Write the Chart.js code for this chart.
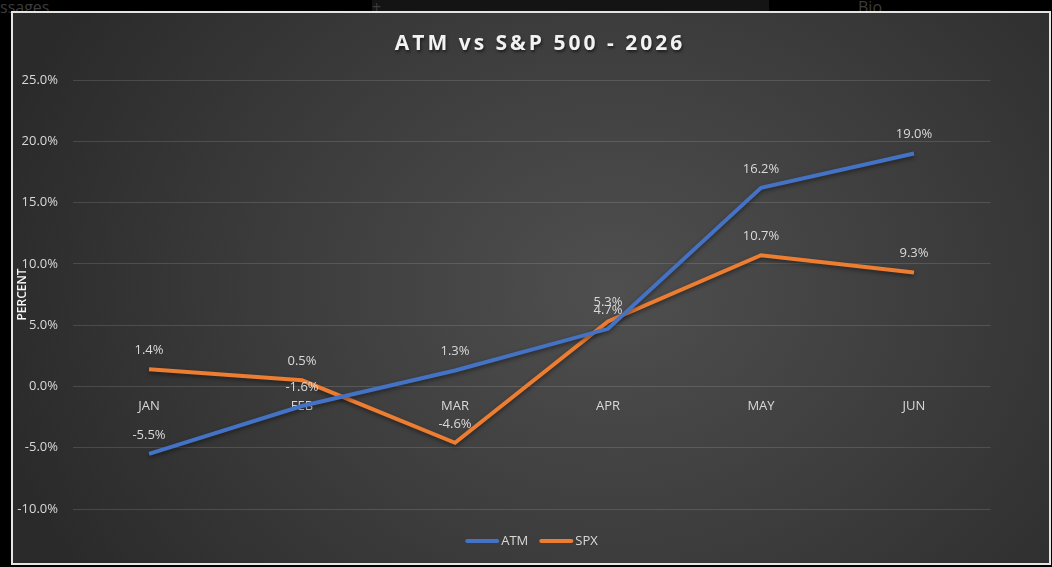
<!DOCTYPE html>
<html>
<head>
<meta charset="utf-8">
<script src="https://cdn.jsdelivr.net/npm/chart.js@4/dist/chart.umd.min.js"></script>
<style>
    html, body { margin: 0; padding: 0; background: #000; width: 1052px; height: 567px; overflow: hidden; font-family: "Open Sans", sans-serif; }
    .sheet { position: absolute; color: #3c3c3c; font-size: 16px; top: -4px; }
    .bar { position: absolute; left: 372px; top: 0; width: 397px; height: 11px; background: #141414; }
    #frame {
        position: absolute; left: 11px; top: 11px;
        width: 1036px; height: 550px;
        border: 2px solid #e4e4e4;
        overflow: hidden;
        background: radial-gradient(ellipse 62% 95% at 58% 50%, #4f4f4f 0%, #3d3d3d 50%, #2a2a2a 100%);
    }
    #title {
        position: absolute; left: 527px; top: 15px; transform: translateX(-50%);
        white-space: nowrap; color: #f2f2f2; font-weight: 700; font-size: 21px;
        letter-spacing: 3px; text-shadow: 1px 2px 3px rgba(0,0,0,0.55);
    }
    #wrap { position: absolute; left: 0; top: 0; width: 1036px; height: 550px; }
</style>
</head>
<body>
<div class="bar"></div>
<div class="sheet" style="left:0">ssages</div>
<div class="sheet" style="left:372px">+</div>
<div class="sheet" style="left:858px">Bio</div>
<div id="frame">
    <div id="wrap"><canvas id="myChart"></canvas></div>
    <div id="title">ATM vs S&amp;P 500 - 2026</div>
</div>
<script>
const months = ['JAN', 'FEB', 'MAR', 'APR', 'MAY', 'JUN'];
const atmValues = [-5.5, -1.6, 1.3, 4.7, 16.2, 19.0];
const spxValues = [1.4, 0.5, -4.6, 5.3, 10.7, 9.3];
const yTicks = [-10, -5, 0, 5, 10, 15, 20, 25];

const labelColor = '#d9d9d9';
const labelFont = '13px "Open Sans"';

// shadow under the lines, like the excel style
const lineShadow = {
    id: 'lineShadow',
    beforeDatasetsDraw(chart) {
        const ctx = chart.ctx;
        ctx.save();
        ctx.shadowColor = 'rgba(0,0,0,0.45)';
        ctx.shadowBlur = 4;
        ctx.shadowOffsetY = 2;
    },
    afterDatasetsDraw(chart) {
        chart.ctx.restore();
    }
};

// value labels above each point
const pointLabels = {
    id: 'pointLabels',
    afterDatasetsDraw(chart) {
        const ctx = chart.ctx;
        ctx.save();
        ctx.font = labelFont;
        ctx.fillStyle = labelColor;
        ctx.textAlign = 'center';
        ctx.textBaseline = 'middle';
        chart.data.datasets.forEach((ds, i) => {
            chart.getDatasetMeta(i).data.forEach((pt, j) => {
                ctx.fillText(ds.data[j].toFixed(1) + '%', pt.x, pt.y - 19);
            });
        });
        ctx.restore();
    }
};

// legend drawn by hand: short line + name, tight gap like excel
const bottomLegend = {
    id: 'bottomLegend',
    afterDraw(chart) {
        const ctx = chart.ctx;
        const lineLen = 34, gap = 2, between = 11;
        ctx.save();
        ctx.font = labelFont;
        const items = chart.data.datasets.map(ds => ({
            ds: ds, w: lineLen + gap + ctx.measureText(ds.label).width
        }));
        const total = items.reduce((a, it) => a + it.w, 0) + between * (items.length - 1);
        let x = (chart.chartArea.left + chart.chartArea.right) / 2 - total / 2;
        const y = chart.chartArea.bottom + 32;
        items.forEach(it => {
            ctx.strokeStyle = it.ds.borderColor;
            ctx.lineWidth = 4;
            ctx.lineCap = 'round';
            ctx.beginPath();
            ctx.moveTo(x + 2, y);
            ctx.lineTo(x + lineLen - 2, y);
            ctx.stroke();
            ctx.fillStyle = labelColor;
            ctx.textBaseline = 'middle';
            ctx.fillText(it.ds.label, x + lineLen + gap, y);
            x += it.w + between;
        });
        ctx.restore();
    }
};

const ctx = document.getElementById('myChart').getContext('2d');
const myChart = new Chart(ctx, {
    type: 'line',
    data: {
        labels: months,
        datasets: [{
            label: 'ATM',
            data: atmValues,
            borderColor: '#4472C4',
            backgroundColor: '#4472C4',
            borderWidth: 4,
            pointRadius: 0,
            tension: 0
        }, {
            label: 'SPX',
            data: spxValues,
            borderColor: '#ED7D31',
            backgroundColor: '#ED7D31',
            borderWidth: 4,
            pointRadius: 0,
            tension: 0
        }]
    },
    options: {
        responsive: true,
        maintainAspectRatio: false,
        animation: false,
        layout: { padding: { top: 67, right: 58.5, left: 0, bottom: 54 } },
        plugins: {
            title: { display: false },
            tooltip: { enabled: false },
            legend: { display: false }
        },
        scales: {
            x: {
                position: { y: 0 },
                offset: true,
                grid: { display: false },
                border: { display: false },
                ticks: {
                    color: labelColor,
                    font: { family: 'Open Sans', size: 13 },
                    padding: 4,
                    maxRotation: 0
                }
            },
            y: {
                min: -10,
                max: 25,
                afterBuildTicks: s => { s.ticks = yTicks.map(v => ({ value: v })); },
                afterFit: s => { s.width = 59.5; },
                grid: { color: 'rgba(255,255,255,0.13)', lineWidth: 1, drawTicks: false },
                border: { display: false },
                ticks: {
                    color: labelColor,
                    font: { family: 'Open Sans', size: 13 },
                    padding: 14.5,
                    callback: v => v.toFixed(1) + '%'
                },
                title: {
                    display: true,
                    text: 'PERCENT',
                    color: '#f4f4f4',
                    font: { family: 'Open Sans', size: 12, weight: '600' },
                    padding: { top: 2, bottom: 0 }
                }
            }
        }
    },
    plugins: [lineShadow, pointLabels, bottomLegend]
});
</script>
</body>
</html>
